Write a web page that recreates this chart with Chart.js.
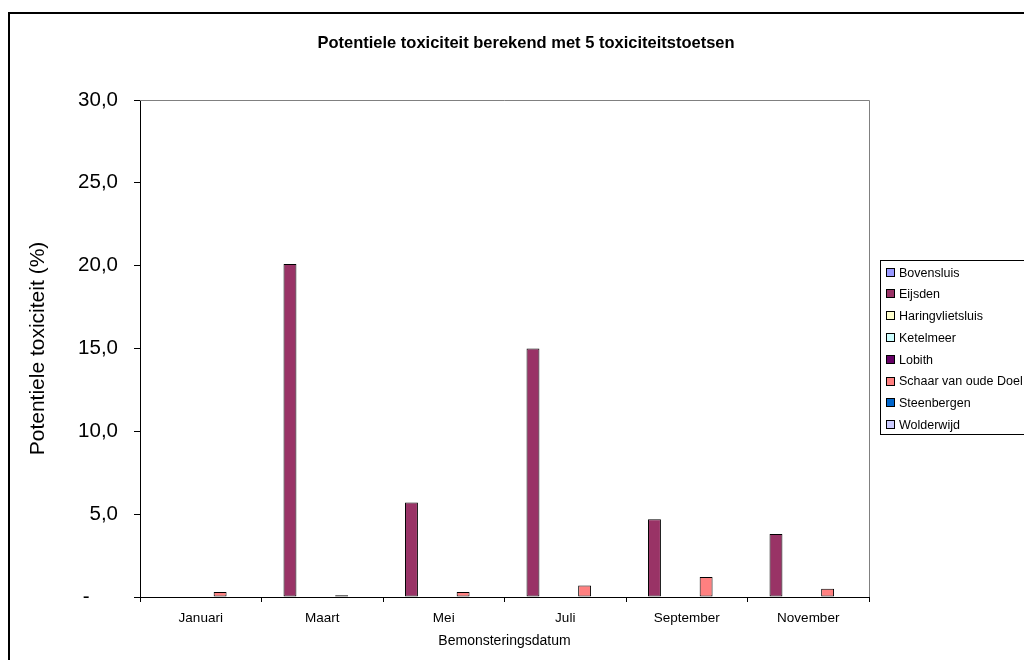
<!DOCTYPE html>
<html>
<head>
<meta charset="utf-8">
<script src="https://cdn.jsdelivr.net/npm/chart.js@4.4.1/dist/chart.umd.min.js"></script>
<style>
  html, body { margin: 0; padding: 0; background: #fff; overflow: hidden; }
  canvas { display: block; }
</style>
</head>
<body>
<canvas id="c" width="1024" height="660"></canvas>
<script>
// Sampling months (x categories)
const categories = ['Januari', 'Maart', 'Mei', 'Juli', 'September', 'November'];

// Sampling stations (one bar series each)
const stations = ['Bovensluis', 'Eijsden', 'Haringvlietsluis', 'Ketelmeer', 'Lobith',
                  'Schaar van oude Doel', 'Steenbergen', 'Wolderwijd'];
const stationColors = ['#9999FF', '#993366', '#FFFFCC', '#CCFFFF', '#660066',
                       '#FF8080', '#0066CC', '#CCCCFF'];

// Potential toxicity (%) per station and month
const bovensluis      = [0, 0, 0, 0, 0, 0];
const eijsden         = [0, 20.1, 5.7, 15.0, 4.7, 3.8];
const haringvliet     = [0, 0, 0, 0, 0, 0];
const ketelmeer       = [0, 0, 0, 0, 0, 0];
const lobith          = [0, 0, 0, 0, 0, 0];
const schaar          = [0.3, 0.1, 0.3, 0.7, 1.2, 0.5];
const steenbergen     = [0, 0, 0, 0, 0, 0];
const wolderwijd      = [0, 0, 0, 0, 0, 0];
const seriesValues = [bovensluis, eijsden, haringvliet, ketelmeer, lobith, schaar, steenbergen, wolderwijd];

// Value axis
const yMin = 0, yMax = 30, yStep = 5;

const chartTitle = 'Potentiele toxiciteit berekend met 5 toxiciteitstoetsen';
const yTitle = 'Potentiele toxiciteit (%)';
const xTitle = 'Bemonsteringsdatum';

const FONT = '"Liberation Sans", Arial, Helvetica, sans-serif';

function fmtTick(v) {
  if (v === 0) return '-\u2007\u2007 ';
  return v.toFixed(1).replace('.', ',');
}

const decor = {
  id: 'decor',
  beforeDraw(chart) {
    const ctx = chart.ctx;
    ctx.save();
    ctx.fillStyle = '#fff';
    ctx.fillRect(0, 0, chart.width, chart.height);
    // outer chart frame
    ctx.strokeStyle = '#000';
    ctx.lineWidth = 2;
    ctx.strokeRect(9, 13, 1100, 700);
    // title
    ctx.fillStyle = '#000';
    ctx.font = 'bold 16.5px ' + FONT;
    ctx.textAlign = 'center';
    ctx.textBaseline = 'middle';
    ctx.fillText(chartTitle, 526, 43);
    ctx.restore();
  },
  afterDraw(chart) {
    const ctx = chart.ctx;
    const a = chart.chartArea;
    ctx.save();
    // plot-area border (top and right)
    ctx.strokeStyle = '#808080';
    ctx.lineWidth = 1;
    ctx.beginPath();
    ctx.moveTo(a.left, a.top + 0.5);
    ctx.lineTo(a.right + 0.5, a.top + 0.5);
    ctx.lineTo(a.right + 0.5, a.bottom);
    ctx.stroke();

    // legend
    const lx = 880.5, ly = 260.5, lw = 200, lh = 174;
    ctx.strokeStyle = '#000';
    ctx.strokeRect(lx, ly, lw, lh);
    ctx.font = '12.5px ' + FONT;
    ctx.textAlign = 'left';
    ctx.textBaseline = 'middle';
    chart.data.datasets.forEach((ds, i) => {
      const cy = 272.7 + i * 21.76;
      ctx.fillStyle = ds.backgroundColor;
      ctx.fillRect(887, Math.round(cy - 4), 7, 7);
      ctx.strokeStyle = '#000';
      ctx.strokeRect(886.5, Math.round(cy - 4) - 0.5, 8, 8);
      ctx.fillStyle = '#000';
      ctx.fillText(ds.label, 899, cy + 0.5);
    });
    ctx.restore();
  }
};

new Chart(document.getElementById('c'), {
  type: 'bar',
  data: {
    labels: categories,
    datasets: stations.map((name, i) => ({
      label: name,
      data: seriesValues[i],
      backgroundColor: stationColors[i],
      borderColor: '#000',
      borderWidth: 1,
      borderSkipped: false,
      categoryPercentage: 0.85,
      barPercentage: 1.0
    }))
  },
  options: {
    responsive: false,
    animation: false,
    events: [],
    layout: { padding: { top: 100, right: 155, left: 0, bottom: 0 } },
    plugins: {
      legend: { display: false },
      title: { display: false },
      tooltip: { enabled: false }
    },
    scales: {
      x: {
        afterFit(scale) { scale.height = 63; },
        grid: { display: true, drawOnChartArea: false, drawTicks: true, tickLength: 5, color: '#000', offset: true },
        border: { display: true, color: '#000', width: 1 },
        ticks: { color: '#000', font: { family: FONT, size: 13.5 }, padding: 8, maxRotation: 0, autoSkip: false },
        title: { display: true, text: xTitle, color: '#000', font: { family: FONT, size: 14 }, padding: { top: 0, bottom: 10 } }
      },
      y: {
        min: yMin, max: yMax,
        afterFit(scale) { scale.width = 140; },
        grid: { display: true, drawOnChartArea: false, drawTicks: true, tickLength: 6, color: '#000' },
        border: { display: true, color: '#000', width: 1 },
        ticks: { stepSize: yStep, color: '#000', font: { family: FONT, size: 20.5 }, padding: 16, callback: fmtTick },
        title: { display: true, text: yTitle, color: '#000', font: { family: FONT, size: 21 }, padding: { top: 26, bottom: 0 } }
      }
    }
  },
  plugins: [decor]
});
</script>
</body>
</html>
